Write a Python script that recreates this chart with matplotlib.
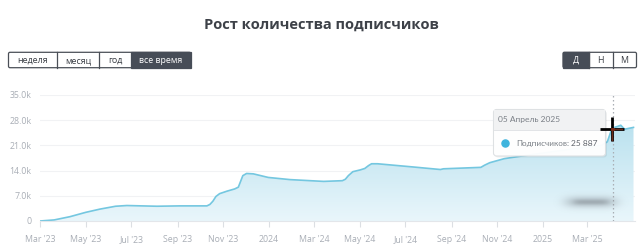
import matplotlib
matplotlib.use("Agg")
import matplotlib.pyplot as plt
import matplotlib.dates as mdates
import numpy as np
from matplotlib.patches import FancyBboxPatch, Rectangle
from matplotlib.colors import LinearSegmentedColormap
from datetime import datetime

# ---------------- data ----------------
dates = ["2023-03-01", "2023-03-20", "2023-04-10", "2023-05-01", "2023-05-20", "2023-06-10",
         "2023-06-25", "2023-08-04", "2023-09-04", "2023-10-10", "2023-10-14", "2023-10-18",
         "2023-10-22", "2023-10-27", "2023-11-06", "2023-11-16", "2023-11-21", "2023-11-24",
         "2023-11-27", "2023-12-02", "2023-12-11", "2023-12-31", "2024-01-29", "2024-03-14",
         "2024-04-08", "2024-04-12", "2024-04-16", "2024-04-22", "2024-05-02", "2024-05-08",
         "2024-05-13", "2024-05-17", "2024-05-25", "2024-07-12", "2024-08-17", "2024-08-21",
         "2024-10-10", "2024-10-15", "2024-10-22", "2024-11-10", "2024-12-02", "2025-01-12",
         "2025-02-21", "2025-03-20", "2025-03-28", "2025-04-02", "2025-04-05", "2025-04-11",
         "2025-04-15", "2025-04-20", "2025-05-02"]
subscribers = [0, 300, 1200, 2400, 3300, 4100,
               4300, 4100, 4200, 4200, 4600, 5500,
               6800, 7600, 8300, 8900, 9400, 11000,
               12600, 13200, 13100, 12100, 11500, 11000,
               11200, 11600, 12600, 13700, 14200, 14600,
               15400, 15900, 15900, 15000, 14300, 14500,
               14900, 15500, 16200, 17300, 18000, 19200,
               20300, 21000, 22000, 25000, 25887, 26300,
               26600, 25500, 26000]

tick_dates = ["2023-03-01", "2023-05-01", "2023-07-01", "2023-09-01", "2023-11-01", "2024-01-01",
              "2024-03-01", "2024-05-01", "2024-07-01", "2024-09-01", "2024-11-01", "2025-01-01",
              "2025-03-01"]
tick_labels = ["Mar '23", "May '23", "Jul '23", "Sep '23", "Nov '23", "2024",
               "Mar '24", "May '24", "Jul '24", "Sep '24", "Nov '24", "2025", "Mar '25"]
y_ticks = [0, 7000, 14000, 21000, 28000, 35000]
y_tick_labels = ["0", "7.0k", "14.0k", "21.0k", "28.0k", "35.0k"]

title = "Рост количества подписчиков"
range_buttons = ["неделя", "месяц", "год", "все время"]
scale_buttons = ["Д", "Н", "М"]
tooltip_date = "05 Апрель 2025"
tooltip_label = "Подписчиков:"
tooltip_value = "25 887"
hover_date = "2025-04-05"

# ---------------- figure ----------------
W, H = 642, 248
fig = plt.figure(figsize=(W / 100, H / 100), dpi=100)
fig.patch.set_facecolor("white")
FONT = ["Open Sans", "DejaVu Sans"]
FONT2 = ["Lato", "DejaVu Sans"]

x = mdates.date2num([datetime.strptime(d, "%Y-%m-%d") for d in dates])
y = np.array(subscribers, dtype=float)

ax = fig.add_axes([40 / W, 1 - 221 / H, (635 - 40) / W, (221 - 95) / H])
xmin = mdates.date2num(datetime(2023, 3, 1))
xmax = mdates.date2num(datetime(2025, 5, 4))

for yt in y_ticks[1:]:
    ax.axhline(yt, color="#f1f2f4", lw=0.8, zorder=0)

poly = ax.fill_between(x, 0, y, facecolor="none", edgecolor="none")
cmap = LinearSegmentedColormap.from_list("g", ["#e9f6fb", "#acdbeb"])
grad = np.linspace(0, 1, 256).reshape(-1, 1)
im = ax.imshow(grad, extent=[xmin, xmax, 0, 35000], aspect="auto", origin="lower",
               cmap=cmap, zorder=1)
im.set_clip_path(poly.get_paths()[0], transform=ax.transData)
ax.plot(x, y, color="#74c7e0", lw=1.2, zorder=2, solid_joinstyle="round")
ax.set_xlim(xmin, xmax)
ax.set_ylim(0, 35000)

hx = mdates.date2num(datetime.strptime(hover_date, "%Y-%m-%d"))
ax.axvline(hx, color="#a9aeb4", lw=0.9, ls=(0, (1.2, 2)), zorder=3)

ax.set_xticks(mdates.date2num([datetime.strptime(d, "%Y-%m-%d") for d in tick_dates]))
ax.set_xticklabels(tick_labels, fontsize=6.3, color="#a9aeb6", family=FONT)
ax.set_yticks(y_ticks)
ax.set_yticklabels(y_tick_labels, fontsize=6.3, color="#a9aeb6", family=FONT)
ax.tick_params(axis="x", length=4, width=0.8, color="#dcdfe3", pad=6)
ax.tick_params(axis="y", length=0, pad=6)
for s in ["top", "right", "left"]:
    ax.spines[s].set_visible(False)
ax.spines["bottom"].set_color("#e3e6ea")
ax.spines["bottom"].set_linewidth(0.8)
ax.set_facecolor("none")

# ---------------- overlay (pixel coords) ----------------
ov = fig.add_axes([0, 0, 1, 1], zorder=5)
ov.set_xlim(0, W)
ov.set_ylim(H, 0)
ov.axis("off")
ov.patch.set_alpha(0)

ov.text(W / 2, 25, title, ha="center", va="center", fontsize=10.5, fontweight="bold",
        color="#3d4148", family=FONT)

def button_group(labels, edges, active, y0=52.3, y1=67.7):
    outer = FancyBboxPatch((edges[0], y0), edges[-1] - edges[0], y1 - y0,
                           boxstyle="round,pad=0,rounding_size=1.5",
                           fc="white", ec="#4a4f57", lw=0.9, zorder=1)
    ov.add_patch(outer)
    for i, lab in enumerate(labels):
        l, r = edges[i], edges[i + 1]
        if i == active:
            ov.add_patch(Rectangle((l, y0), r - l, y1 - y0, fc="#474d57", ec="#474d57",
                                   lw=0.9, zorder=2))
            col = "white"
        else:
            col = "#3a3e45"
            if i > 0:
                ov.plot([l, l], [y0, y1], color="#4a4f57", lw=0.9, zorder=2)
        ov.text((l + r) / 2, 63.0, lab, ha="center", va="baseline",
                fontsize=6.4, color=col, family=FONT, zorder=3)

button_group(range_buttons, [8.5, 56.7, 99.3, 130.7, 190.7], 3)
button_group(scale_buttons, [563, 589, 612.7, 636.5], 0)

# tooltip
tx0, tx1, ty0, ty1, tsep = 493.5, 605.5, 109.5, 156, 130
ov.add_patch(FancyBboxPatch((tx0 + 1.5, ty0 + 1.5), tx1 - tx0, ty1 - ty0,
                            boxstyle="round,pad=0,rounding_size=3", fc="#000000",
                            ec="none", alpha=0.06, zorder=6))
ov.add_patch(FancyBboxPatch((tx0, ty0), tx1 - tx0, ty1 - ty0,
                            boxstyle="round,pad=0,rounding_size=3", fc="white",
                            ec="#dde0e3", lw=0.8, alpha=0.97, zorder=7))
ov.add_patch(Rectangle((tx0 + 0.6, ty0 + 0.6), tx1 - tx0 - 1.2, tsep - ty0 - 0.6,
                       fc="#f1f2f3", ec="none", zorder=7.5))
ov.plot([tx0 + 0.5, tx1 - 0.5], [tsep, tsep], color="#e2e4e7", lw=0.7, zorder=8)
ov.text(498, 119.5, tooltip_date, ha="left", va="center", fontsize=6, color="#7a7f86",
        family=FONT2, zorder=9)
ov.scatter([505], [143.3], s=26, color="#3fb4dd", zorder=9)
ov.text(516, 143.5, tooltip_label, ha="left", va="center", fontsize=5.9, color="#7a7f86",
        family=FONT2, zorder=9)
ov.text(597.5, 143.5, tooltip_value, ha="right", va="center", fontsize=6, color="#60656c",
        family=FONT2, zorder=9)

# blurred watermark
gx = np.linspace(-1, 1, 140)
gy = np.linspace(-1, 1, 50)
GX, GY = np.meshgrid(gx, gy)
blob = np.exp(-((GX / 0.7) ** 4) * 1.2 - (GY / 0.5) ** 2 * 1.5)
core = np.exp(-((GX / 0.45) ** 6) - (GY / 0.2) ** 2)
rgba = np.zeros((50, 140, 4))
rgba[..., 0] = 0.46
rgba[..., 1] = 0.49
rgba[..., 2] = 0.52
rgba[..., 3] = np.clip(0.42 * blob + 0.18 * core, 0, 1)
ov.imshow(rgba, extent=[552, 630, 216, 188], aspect="auto", zorder=4, interpolation="bilinear")

# mouse cursor
cx, cy = 612.3, 128.7
ov.plot([600, 624], [cy, cy], color="black", lw=2.0, zorder=10, solid_capstyle="butt")
ov.plot([cx, cx], [116.5, 141], color="black", lw=2.0, zorder=10, solid_capstyle="butt")
ov.plot([cx - 0.6, cx + 0.6], [cy, cy], color="#8b2b16", lw=2.0, zorder=11)
ov.plot([cx, cx], [cy + 1, cy + 11], color="#6b2a1a", lw=1.0, zorder=11)
ov.plot([cx + 1, cx + 10], [cy, cy], color="#6b2a1a", lw=1.0, zorder=11)

ov.set_xlim(0, W)
ov.set_ylim(H, 0)

fig.savefig("out.png", dpi=100)
